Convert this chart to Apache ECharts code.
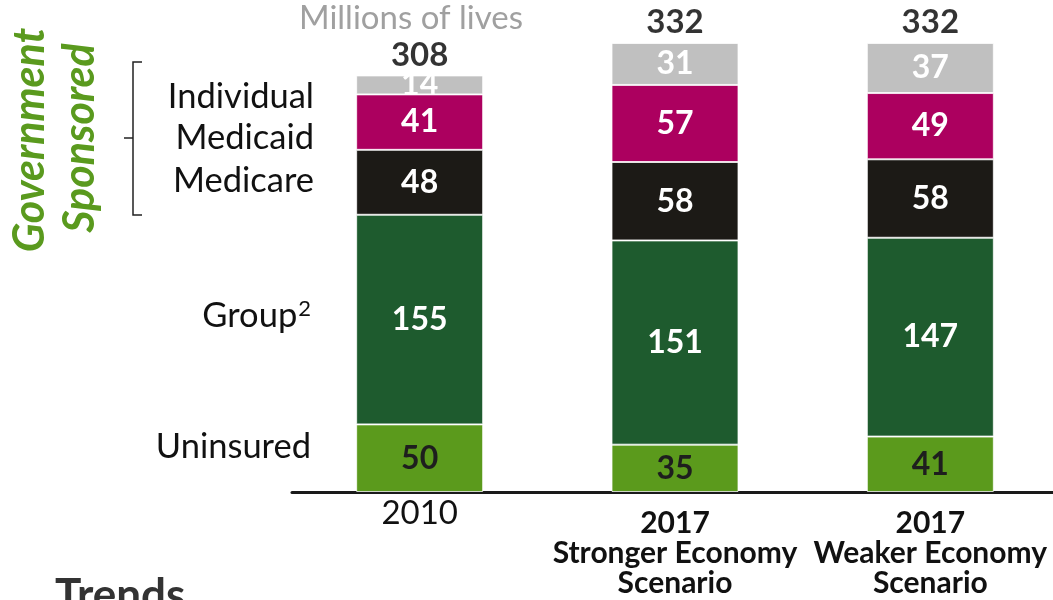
<!DOCTYPE html>
<html><head><meta charset="utf-8">
<script src="https://cdn.jsdelivr.net/npm/echarts@6/dist/echarts.min.js"></script>
<style>html,body{margin:0;padding:0;background:#fff;overflow:hidden}#c{width:1062px;height:600px}</style>
</head><body><div id="c"></div>
<script>
var categories = ['2010', '2017\nStronger Economy\nScenario', '2017\nWeaker Economy\nScenario'];
var uninsured = [50, 35, 41];
var group = [155, 151, 147];
var medicare = [48, 58, 58];
var medicaid = [41, 57, 49];
var individual = [14, 31, 37];
var totals = [308, 332, 332];

var FONT = 'Lato';
var chart = echarts.init(document.getElementById('c'));
function seg(name, data, color, labelColor) {
  return {
    name: name, type: 'bar', stack: 'total', data: data, barWidth: 127,
    itemStyle: { color: color, borderColor: 'rgba(255,255,255,0.75)', borderWidth: 1 },
    label: { show: true, position: 'inside', color: labelColor, fontFamily: FONT, fontWeight: 'bold', fontSize: 32 },
    silent: true
  };
}
var option = {
  animation: false,
  grid: { left: 292, right: 4, top: 43, bottom: 108 },
  xAxis: {
    type: 'category', data: categories,
    axisLine: { lineStyle: { color: '#1a1a1a', width: 3 } },
    axisTick: { show: false },
    axisLabel: {
      margin: 6,
      interval: 0,
      formatter: function (v, i) {
        if (i === 0) return '{r|' + v + '}';
        return '{s| }\n' + v.split('\n').map(function (s) { return '{b|' + s + '}'; }).join('\n');
      },
      rich: {
        r: { fontFamily: FONT, fontSize: 33, color: '#111', lineHeight: 30 },
        s: { fontSize: 2, lineHeight: 10 },
        b: { fontFamily: FONT, fontSize: 30, fontWeight: 'bold', color: '#111', lineHeight: 30 }
      }
    }
  },
  yAxis: { type: 'value', min: 0, max: 332, show: false, splitLine: { show: false } },
  series: [
    seg('Uninsured', uninsured, '#5b9a1c', '#1e1e1e'),
    seg('Group', group, '#1e5b2e', '#ffffff'),
    seg('Medicare', medicare, '#1c1a16', '#ffffff'),
    seg('Medicaid', medicaid, '#ac005f', '#ffffff'),
    seg('Individual', individual, '#c0c0c0', '#ffffff'),
    {
      name: 'Total', type: 'scatter', data: totals, symbolSize: 0, silent: true,
      label: { show: true, position: 'top', distance: 4, color: '#000', fontFamily: FONT, fontWeight: 'bold', fontSize: 33 }
    }
  ],
  graphic: [
    { type: 'text', x: 411, y: 18, style: { text: 'Millions of lives', fill: '#a0a0a0', font: '33px Lato', textAlign: 'center', textVerticalAlign: 'middle' } },
    { type: 'text', x: 314, y: 97, style: { text: 'Individual', fill: '#111', font: '34.5px Lato', textAlign: 'right', textVerticalAlign: 'middle' } },
    { type: 'text', x: 314, y: 138, style: { text: 'Medicaid', fill: '#111', font: '34.5px Lato', textAlign: 'right', textVerticalAlign: 'middle' } },
    { type: 'text', x: 314, y: 181, style: { text: 'Medicare', fill: '#111', font: '34.5px Lato', textAlign: 'right', textVerticalAlign: 'middle' } },
    { type: 'text', x: 311, y: 316, style: { text: '{g|Group}{p|2}', fill: '#111', textAlign: 'right', textVerticalAlign: 'middle',
        rich: { g: { font: '34.5px Lato', fill: '#111' }, p: { font: '22px Lato', fill: '#111', padding: [0, 0, 14, 1] } } } },
    { type: 'text', x: 311, y: 447, style: { text: 'Uninsured', fill: '#111', font: '34.5px Lato', textAlign: 'right', textVerticalAlign: 'middle' } },
    { type: 'polyline', shape: { points: [[142, 62], [133, 62], [133, 215], [142, 215]] }, style: { stroke: '#222', lineWidth: 1.5, fill: null } },
    { type: 'line', shape: { x1: 124, y1: 138, x2: 133, y2: 138 }, style: { stroke: '#222', lineWidth: 1.5 } },
    { type: 'text', x: 30, y: 140, rotation: Math.PI / 2, style: { text: 'Government', fill: '#5a9a1e', font: 'italic bold 43px Lato', textAlign: 'center', textVerticalAlign: 'middle' } },
    { type: 'text', x: 80, y: 138, rotation: Math.PI / 2, style: { text: 'Sponsored', fill: '#5a9a1e', font: 'italic bold 43px Lato', textAlign: 'center', textVerticalAlign: 'middle' } },
    { type: 'text', x: 55, y: 574, style: { text: 'Trends', fill: '#333', font: 'bold 44px Lato', textAlign: 'left', textVerticalAlign: 'top' } }
  ]
};
chart.setOption(option);
</script></body></html>
